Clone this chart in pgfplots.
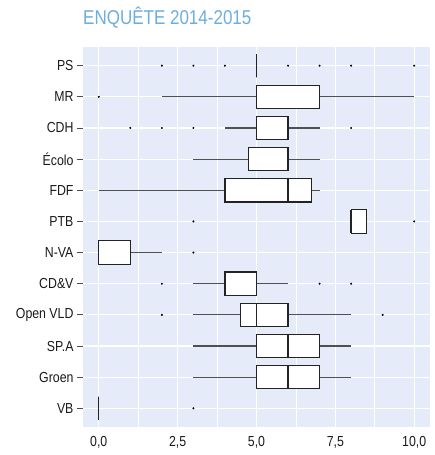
\documentclass[border=0pt]{standalone}
\usepackage{fontspec}
\setmainfont{Liberation Sans}[FakeStretch=0.85]
\usepackage{pgfplots}
\pgfplotsset{compat=1.18}
\usepgfplotslibrary{statistics}
\definecolor{panelbg}{RGB}{229,235,248}
\definecolor{titleblue}{RGB}{108,174,222}
\definecolor{boxline}{RGB}{35,35,35}
\definecolor{whisk}{RGB}{80,80,80}
\begin{document}
\begin{tikzpicture}[x=1pt,y=1pt]
\path[use as bounding box] (0,0) rectangle (434,455);
\node[anchor=base west, text=titleblue, font=\fontsize{20}{24}\selectfont, inner sep=0pt] at (83,430) {ENQUÊTE 2014-2015};
\begin{axis}[
  at={(83pt,28pt)}, anchor=south west, scale only axis,
  width=347pt, height=380pt,
  xmin=-0.5, xmax=10.5, ymin=0.4, ymax=12.6,
  axis background/.style={fill=panelbg},
  axis line style={draw=none},
  xtick={0,2.5,5,7.5,10}, minor xtick={1.25,3.75,6.25,8.75},
  ytick={1,...,12},
  yticklabels={VB,Groen,SP.A,Open VLD,CD\&V,N-VA,PTB,FDF,Écolo,CDH,MR,PS},
  ytick pos=left, xtick pos=bottom,
  grid=both,
  major grid style={white, line width=1.2pt},
  minor grid style={white, line width=0.8pt},
  tick align=outside, major tick length=6pt, minor tick length=0pt,
  x tick style={draw=none},
  y tick style={draw=black!70, line width=0.9pt},
  tick label style={font=\fontsize{14.5}{17}\selectfont, text=black!90},
  /pgf/number format/assume math mode=true,
  /pgf/number format/use comma,
  /pgf/number format/fixed,
  /pgf/number format/fixed zerofill,
  /pgf/number format/precision=1,
  boxplot/draw direction=x,
  boxplot/box extend=0.75,
  boxplot/whisker extend=0,
  boxplot/every whisker/.style={draw=whisk, line width=1.1pt},
  boxplot/every median/.style={line width=1.4pt},
  bx/.style={draw=boxline, fill=white, line width=1.1pt, solid,
    mark=*, mark size=0.8pt, mark options={fill=black, draw=black, line width=0.4pt, solid}},
]
% PS
\addplot[bx, boxplot prepared={lower whisker=5, lower quartile=5, median=5, upper quartile=5, upper whisker=5, draw position=12}]
  coordinates {(0,2) (0,3) (0,4) (0,6) (0,7) (0,8) (0,10)};
% MR
\addplot[bx, boxplot prepared={lower whisker=2, lower quartile=5, median=5, upper quartile=7, upper whisker=10, draw position=11}]
  coordinates {(0,0)};
% CDH
\addplot[bx, boxplot prepared={lower whisker=4, lower quartile=5, median=5, upper quartile=6, upper whisker=7, draw position=10}]
  coordinates {(0,1) (0,2) (0,3) (0,8)};
% Ecolo
\addplot[bx, boxplot prepared={lower whisker=3, lower quartile=4.75, median=6, upper quartile=6, upper whisker=7, draw position=9}]
  coordinates {};
% FDF
\addplot[bx, boxplot prepared={lower whisker=0, lower quartile=4, median=6, upper quartile=6.75, upper whisker=7, draw position=8}]
  coordinates {};
% PTB
\addplot[bx, boxplot prepared={lower whisker=8, lower quartile=8, median=8, upper quartile=8.5, upper whisker=8.5, draw position=7}]
  coordinates {(0,3) (0,10)};
% N-VA
\addplot[bx, boxplot prepared={lower whisker=0, lower quartile=0, median=0, upper quartile=1, upper whisker=2, draw position=6}]
  coordinates {(0,3)};
% CD&V
\addplot[bx, boxplot prepared={lower whisker=3, lower quartile=4, median=5, upper quartile=5, upper whisker=6, draw position=5}]
  coordinates {(0,2) (0,7) (0,8)};
% Open VLD
\addplot[bx, boxplot prepared={lower whisker=3, lower quartile=4.5, median=5, upper quartile=6, upper whisker=8, draw position=4}]
  coordinates {(0,2) (0,9)};
% SP.A
\addplot[bx, boxplot prepared={lower whisker=3, lower quartile=5, median=6, upper quartile=7, upper whisker=8, draw position=3}]
  coordinates {};
% Groen
\addplot[bx, boxplot prepared={lower whisker=3, lower quartile=5, median=6, upper quartile=7, upper whisker=8, draw position=2}]
  coordinates {};
% VB
\addplot[bx, boxplot prepared={lower whisker=0, lower quartile=0, median=0, upper quartile=0, upper whisker=0, draw position=1}]
  coordinates {(0,3)};
\end{axis}
\end{tikzpicture}
\end{document}
